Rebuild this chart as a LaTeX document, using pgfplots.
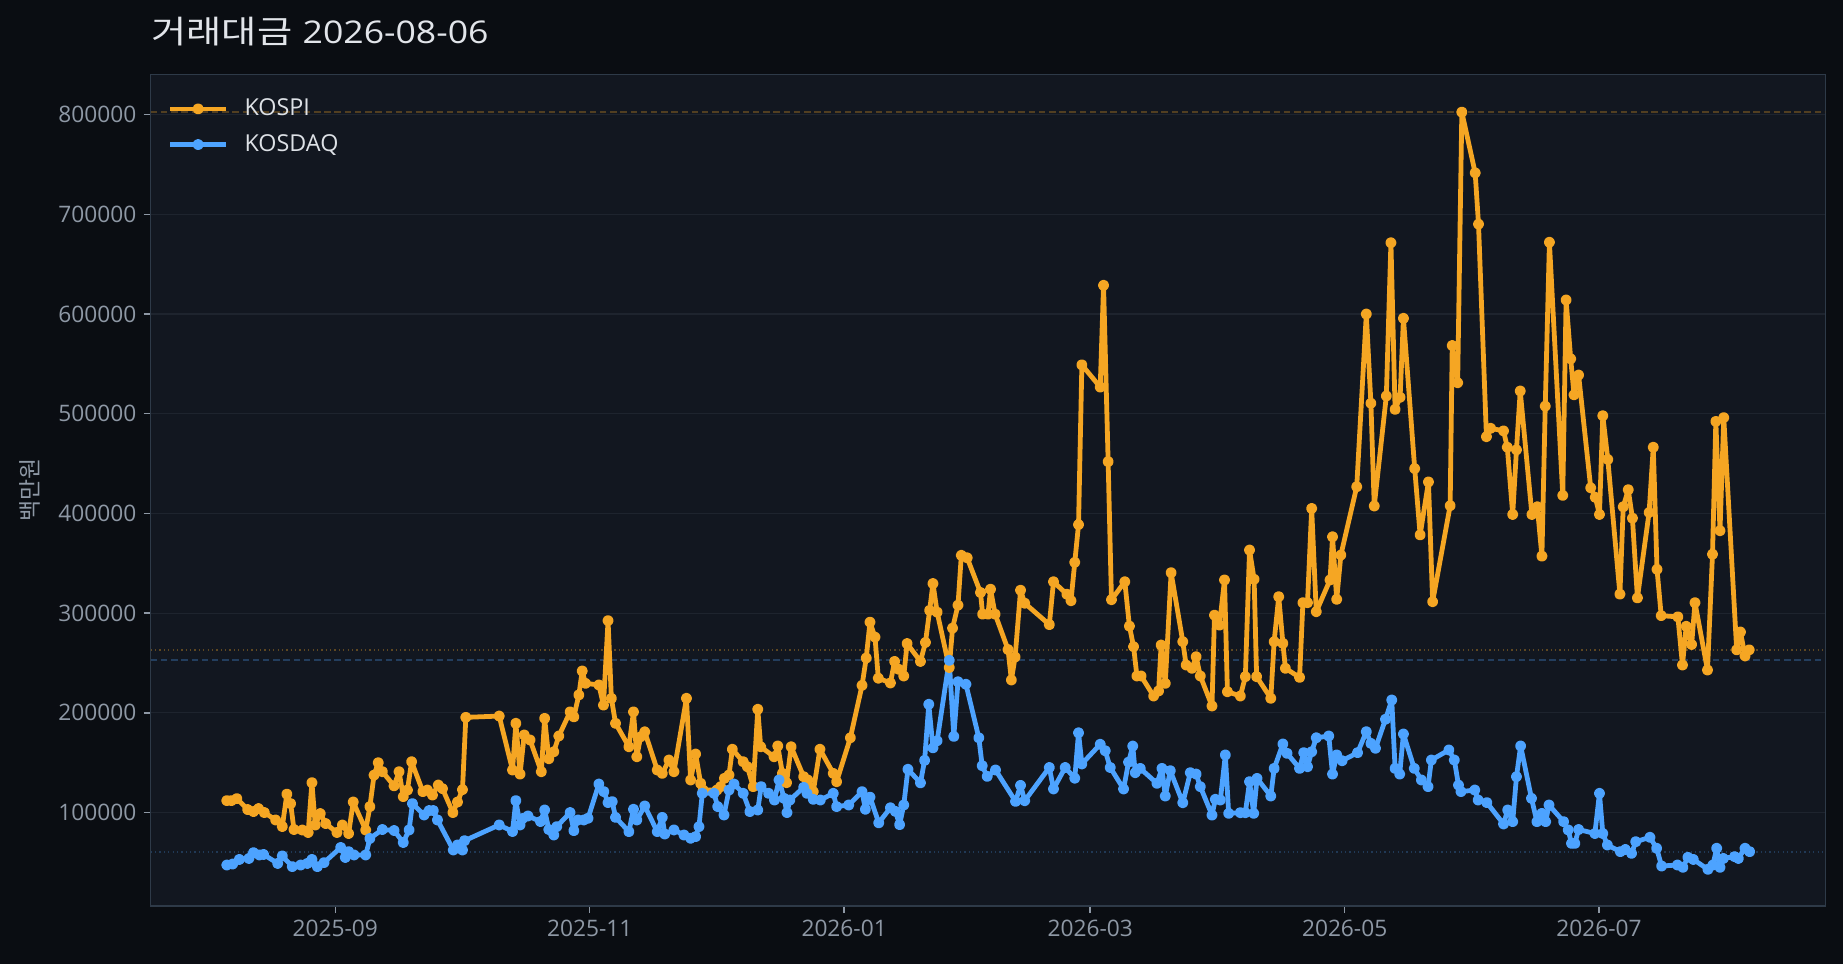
\documentclass[border=0pt]{standalone}
\usepackage{fontspec}
\setmainfont{Open Sans}
\newfontfamily\kr{Noto Sans CJK KR}
\newfontfamily\krwide[FakeStretch=1.2]{Noto Sans CJK KR}
\newfontfamily\latwide[FakeStretch=1.14]{Open Sans}
\usepackage{pgfplots}
\pgfplotsset{compat=1.18}
\definecolor{figbg}{HTML}{0A0D12}
\definecolor{axbg}{HTML}{121720}
\definecolor{gridc}{HTML}{1E242E}
\definecolor{spine}{HTML}{2E3A48}
\definecolor{tickc}{HTML}{8E98A5}
\definecolor{titlec}{HTML}{E2E5EA}
\definecolor{legc}{HTML}{DDE1E6}
\definecolor{kospi}{HTML}{F5A623}
\definecolor{kosdaq}{HTML}{4DA3FF}
\begin{document}
\begin{tikzpicture}
\fill[figbg] (0,0) rectangle (884.64pt,462.72pt);
\begin{axis}[
  at={(72.34pt,27.84pt)}, anchor=south west,
  scale only axis, width=803.8pt, height=399.2pt,
  xmin=-44.25, xmax=357.25, ymin=6300, ymax=840400,
  axis background/.style={fill=axbg},
  axis line style={draw=spine, line width=0.7pt},
  xtick={0,61,122,181,242,303},
  xticklabels={2025-09,2025-11,2026-01,2026-03,2026-05,2026-07},
  ytick={100000,200000,300000,400000,500000,600000,700000,800000},
  scaled y ticks=false,
  yticklabel style={/pgf/number format/.cd, fixed, precision=0, 1000 sep={}},
  /pgf/number format/assume math mode=true,
  ticklabel style={font=\fontsize{10.9}{13}\selectfont, text=tickc},
  xtick pos=bottom, ytick pos=left,
  tick align=outside, major tick length=3.4pt,
  tick style={draw=tickc, line width=0.7pt},
  ymajorgrids, grid style={draw=gridc, line width=0.6pt},
  ylabel={\kr 백만원},
  ylabel style={at={(axis description cs:-0.0721,0.5)}, anchor=center, font=\fontsize{11}{13}\selectfont, text=tickc},
  legend style={at={(axis description cs:0.0063,0.981)}, anchor=north west, draw=none, fill=none,
    font=\fontsize{11.2}{13}\selectfont, text=legc, row sep=3.5pt},
  legend cell align=left,
  legend image code/.code={\draw[#1, mark repeat=2, mark phase=2] plot coordinates {(0pt,0pt) (13.35pt,0pt) (26.7pt,0pt)};\path (32.5pt,0pt);},
  every axis plot/.append style={line join=round},
]
% reference lines
\addplot[forget plot, draw=kospi!28!axbg, line width=1pt, dash pattern=on 3.1pt off 1.8pt] coordinates {(-44.25,802500) (357.25,802500)};
\addplot[forget plot, draw=kospi!34!axbg, line width=1pt, dash pattern=on 0.6pt off 1.5pt] coordinates {(-44.25,263200) (357.25,263200)};
\addplot[forget plot, draw=kosdaq!28!axbg, line width=1pt, dash pattern=on 3.1pt off 1.8pt] coordinates {(-44.25,252700) (357.25,252700)};
\addplot[forget plot, draw=kosdaq!24!axbg, line width=1pt, dash pattern=on 0.6pt off 1.5pt] coordinates {(-44.25,60800) (357.25,60800)};
% KOSPI
\addplot[color=kospi, line width=2.3pt, mark=*, mark size=1.5pt] coordinates {
(-26.0,112000) (-24.9,112000) (-23.6,114000) (-21.0,103000) (-19.6,101000) (-18.4,104000) (-17.0,100000) (-14.3,92600) (-12.7,86000) (-11.6,118500)
(-10.7,109000) (-9.9,83000) (-7.9,82500) (-6.5,80000) (-5.6,130000) (-4.8,87500) (-3.6,99000) (-2.3,89000) (0.4,80000) (1.7,87500)
(3.2,79000) (4.3,110600) (7.3,82500) (8.3,106000) (9.3,137600) (10.3,150000) (11.3,141000) (14.1,126800) (15.3,141000) (16.3,116000)
(17.3,122600) (18.3,151000) (21.0,121000) (22.1,122600) (23.3,117600) (24.7,127600) (25.7,124000) (28.2,100000) (29.3,110600) (30.5,123000)
(31.3,195500) (39.3,196800) (42.5,142700) (43.3,189500) (44.3,138600) (45.3,177800) (46.7,172800) (49.4,141000) (50.2,194500) (51.2,154000)
(52.4,161000) (53.6,176800) (56.3,201000) (57.2,196000) (58.4,218000) (59.2,242000) (60.0,229600) (63.2,228000) (64.3,207800) (65.4,292500)
(66.2,214500) (67.2,189500) (70.4,166000) (71.5,201000) (72.3,156000) (73.2,176000) (74.2,181000) (77.2,142700) (78.4,139300) (80.0,152700)
(81.2,141000) (84.2,214600) (85.2,132700) (86.4,158700) (87.6,129300) (88.2,122600) (91.5,122600) (92.4,126000) (93.3,134300) (94.4,137700)
(95.2,163500) (97.8,151000) (98.8,146000) (100.2,126000) (101.3,203600) (102.0,166000) (105.2,156000) (106.1,166800) (107.2,139300) (108.2,130000)
(109.3,166000) (112.3,136000) (113.3,132700) (114.6,121000) (116.2,163500) (119.4,139300) (120.2,131000) (123.5,175000) (126.3,227600) (127.3,255000)
(128.2,291000) (129.4,276000) (130.2,234800) (133.1,230000) (134.1,251600) (135.1,243700) (136.3,237000) (137.1,269500) (140.3,251600) (141.5,270600)
(142.5,302800) (143.3,329700) (144.3,301000) (147.2,245500) (148.0,285000) (149.3,308000) (150.1,358000) (151.5,355500) (154.7,320700) (155.2,299000)
(156.5,299000) (157.1,324000) (158.2,299000) (161.3,263500) (162.1,233000) (163.0,256000) (164.3,323000) (165.3,310000) (171.2,288500) (172.2,331500)
(175.4,319000) (176.4,312500) (177.3,351000) (178.2,388800) (179.0,549000) (183.4,526700) (184.2,628800) (185.3,452000) (186.1,313500) (189.3,331500)
(190.4,287000) (191.4,266400) (192.2,237000) (193.2,237000) (196.2,216900) (197.4,222000) (198.0,268000) (199.0,229600) (200.4,340600) (203.2,271400)
(204.0,248000) (205.4,244700) (206.4,256300) (207.4,237000) (210.2,206900) (210.8,298000) (212.0,288000) (213.2,333300) (213.9,221200) (217.0,216900)
(218.2,236300) (219.2,363300) (220.3,334000) (220.9,236300) (224.3,214600) (225.1,271400) (226.2,316500) (227.2,269700) (227.8,244700) (231.2,235600)
(232.0,310500) (233.1,310500) (234.1,405000) (235.2,301500) (238.5,333300) (239.1,376600) (240.1,313900) (241.1,358300) (244.9,426800) (247.2,600000)
(248.3,510500) (249.1,407500) (252.0,517800) (253.1,671500) (254.1,504400) (255.3,516500) (256.1,595700) (258.8,445000) (260.1,378500) (262.1,431600)
(263.1,311500) (267.3,407800) (267.8,568400) (269.1,531100) (270.1,802500) (273.3,741600) (274.1,690200) (276.0,477000) (277.0,485400) (280.1,482800)
(281.0,466400) (282.3,399000) (283.2,463800) (284.1,522800) (286.9,399000) (288.2,406700) (289.3,357200) (290.1,507600) (291.1,672000) (294.3,418100)
(295.1,614100) (296.2,555100) (297.0,519000) (298.1,538800) (301.0,425700) (302.1,416200) (303.1,399000) (303.9,498000) (305.1,454200) (308.0,319100)
(308.8,406700) (310.0,423800) (311.0,395300) (312.2,315300) (315.0,401000) (316.0,466400) (316.9,343900) (317.9,297500) (321.9,296300) (323.0,248000)
(323.9,286800) (325.2,268600) (326.0,310500) (329.0,243000) (330.2,359100) (331.0,492300) (332.0,382700) (332.9,496100) (336.0,263200) (336.9,281100)
(338.0,257100) (339.0,263200)
};
\addlegendentry{KOSPI}
% KOSDAQ
\addplot[color=kosdaq, line width=2.3pt, mark=*, mark size=1.5pt] coordinates {
(-26.0,47400) (-24.6,48400) (-23.0,53000) (-20.7,54000) (-19.6,59800) (-18.2,57500) (-17.2,58000) (-13.8,49000) (-12.7,56500) (-10.3,45800)
(-8.3,47400) (-6.7,49000) (-5.6,53000) (-4.3,45800) (-2.7,49800) (1.3,65000) (2.4,55000) (3.2,60800) (4.5,57500) (7.3,57500)
(8.3,74000) (11.3,83000) (14.1,82000) (16.3,70000) (17.7,82600) (18.5,109000) (21.3,97600) (22.5,102000) (23.5,102000) (24.5,92600)
(28.3,62500) (29.3,67500) (30.5,62500) (31.0,71800) (39.3,87600) (42.5,81000) (43.3,112000) (44.3,87600) (44.9,94000) (46.2,96600)
(49.2,91000) (50.2,102600) (51.2,83000) (52.4,77500) (53.1,85900) (56.3,100000) (57.2,81900) (58.2,92600) (59.6,92600) (60.6,94300)
(63.2,128600) (64.4,121000) (65.4,110000) (66.4,111000) (67.2,95200) (70.4,80900) (71.5,103300) (72.3,92600) (74.2,106600) (77.2,80900)
(78.4,95200) (79.0,78500) (81.2,82600) (83.6,77500) (85.2,74200) (86.4,75900) (87.2,85900) (88.0,119300) (90.8,119300) (91.7,106000)
(93.2,97600) (94.4,122600) (95.6,128600) (97.8,119300) (99.4,101000) (101.3,102600) (102.1,126000) (103.9,119300) (105.3,112600) (106.4,132700)
(107.6,114300) (108.3,100000) (109.0,112600) (112.3,125300) (113.1,119300) (114.6,113300) (116.3,112600) (119.4,119300) (120.2,106000) (123.1,107600)
(126.3,121000) (127.1,103300) (128.2,115500) (130.3,89700) (133.1,104800) (134.3,101200) (135.3,87900) (136.3,107600) (137.3,143400) (140.3,129800)
(141.3,152400) (142.3,208600) (143.3,164900) (144.3,172000) (147.2,252700) (148.3,176400) (149.3,231200) (151.2,228700) (154.3,175000) (155.1,147000)
(156.3,136300) (158.3,142700) (163.1,111200) (164.3,127300) (165.3,111900) (171.2,145200) (172.2,123700) (175.0,145200) (177.3,134500) (178.2,180000)
(179.0,148800) (183.4,168500) (184.6,162000) (185.8,145200) (189.0,123700) (190.2,150600) (191.2,166700) (191.8,140000) (193.0,144300) (197.0,129300)
(198.2,144300) (199.0,116600) (200.2,142000) (203.2,109900) (205.0,140000) (206.4,138600) (207.4,126000) (210.2,97500) (211.0,113300) (212.2,112600)
(213.4,157800) (214.2,99200) (217.0,99900) (218.2,99900) (219.2,131000) (220.2,99200) (221.0,134300) (224.3,116600) (225.1,144300) (227.2,168800)
(228.2,159400) (231.2,144300) (232.2,160100) (233.1,146000) (234.1,161000) (235.2,175000) (238.2,176800) (239.1,138600) (240.1,157800) (241.4,152000)
(245.1,160100) (247.2,181100) (248.3,169400) (249.4,164500) (251.8,193600) (253.3,212900) (254.1,144300) (255.2,138600) (256.1,178800) (258.7,144300)
(260.4,132700) (262.0,126000) (262.8,152700) (267.0,162800) (268.3,152700) (269.3,127600) (269.9,121000) (273.2,122600) (274.0,112600) (276.1,110000)
(280.1,88600) (281.1,102600) (282.3,90900) (283.2,136000) (284.2,166800) (286.8,114300) (288.1,90900) (289.3,99200) (290.2,90900) (291.0,107600)
(294.5,90900) (295.6,82600) (296.4,69100) (297.2,69100) (298.1,83000) (302.0,79000) (303.1,119300) (303.9,79000) (305.0,67500) (308.1,60800)
(309.3,63000) (310.8,59100) (311.8,70800) (315.2,75200) (316.8,64200) (318.0,46400) (321.8,47400) (323.1,45100) (324.3,55100) (325.6,53000)
(329.1,43100) (330.3,47400) (331.2,64200) (332.0,45100) (332.8,54000) (335.5,55800) (336.4,54000) (338.0,64200) (339.1,60800)
};
\addlegendentry{KOSDAQ}
\end{axis}
\node[anchor=base west, text=titlec, inner sep=0pt] at (72.5pt,441.8pt) {{\krwide\fontsize{15.3}{18}\selectfont 거래대금}\hspace{5pt}{\latwide\fontsize{15}{18}\selectfont 2026-08-06}};
\pgfresetboundingbox
\useasboundingbox (0,0) rectangle (884.64pt,462.72pt);
\end{tikzpicture}
\end{document}
